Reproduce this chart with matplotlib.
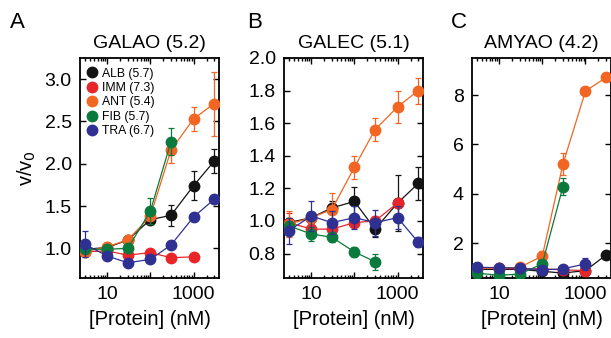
import numpy as np
import matplotlib
matplotlib.use('Agg')
import matplotlib.pyplot as plt
from matplotlib.lines import Line2D
from matplotlib.ticker import FixedLocator, FixedFormatter, LogLocator, NullFormatter

plt.rcParams['font.family'] = ['Liberation Sans', 'DejaVu Sans']

# protein concentrations (nM)
conc = [3, 10, 30, 100, 300, 1000, 3000]

series_names = ['ALB (5.7)', 'IMM (7.3)', 'ANT (5.4)', 'FIB (5.7)', 'TRA (6.7)']
series_colors = ['#141414', '#e8262a', '#f26522', '#0b7a3c', '#2e3192']

panel_titles = ['GALAO (5.2)', 'GALEC (5.1)', 'AMYAO (4.2)']
panel_letters = ['A', 'B', 'C']

nan = np.nan

# panel A: GALAO
galao_vals = [
    [0.99, 1.01, 1.10, 1.34, 1.39, 1.74, 2.03],
    [0.96, 0.97, 0.92, 0.95, 0.89, 0.90, nan],
    [0.96, 1.02, 1.10, 1.38, 2.16, 2.53, 2.71],
    [0.99, 0.99, 1.00, 1.44, 2.26, nan, nan],
    [1.05, 0.91, 0.83, 0.87, 1.04, 1.37, 1.58],
]
galao_err = [
    [0.02, 0.02, 0.03, 0.05, 0.12, 0.17, 0.14],
    [0.02, 0.02, 0.02, 0.03, 0.02, 0.02, nan],
    [0.03, 0.05, 0.06, 0.04, 0.15, 0.14, 0.38],
    [0.02, 0.03, 0.03, 0.15, 0.16, nan, nan],
    [0.15, 0.04, 0.02, 0.03, 0.02, 0.05, 0.03],
]

# panel B: GALEC
galec_vals = [
    [0.99, 1.02, 1.08, 1.12, 0.95, 1.11, 1.23],
    [0.99, 0.95, 0.95, 0.99, 1.00, 1.11, nan],
    [0.98, 1.02, 1.07, 1.33, 1.56, 1.70, 1.80],
    [0.97, 0.92, 0.90, 0.81, 0.75, nan, nan],
    [0.94, 1.03, 0.99, 1.02, 0.99, 1.02, 0.87],
]
galec_err = [
    [0.03, 0.03, 0.04, 0.09, 0.05, 0.17, 0.10],
    [0.06, 0.03, 0.03, 0.03, 0.03, 0.03, nan],
    [0.08, 0.03, 0.10, 0.07, 0.07, 0.10, 0.08],
    [0.03, 0.04, 0.03, 0.03, 0.05, nan, nan],
    [0.08, 0.09, 0.07, 0.07, 0.08, 0.07, 0.03],
]

# panel C: AMYAO
amyao_vals = [
    [0.95, 0.95, 0.95, 0.87, 0.80, 0.90, 1.53],
    [1.00, 1.00, 0.97, 0.97, 0.93, 0.90, nan],
    [1.00, 1.00, 1.03, 1.49, 5.20, 8.16, 8.71],
    [0.80, 0.71, 0.76, 1.17, 4.29, nan, nan],
    [1.03, 1.02, 1.00, 0.93, 0.97, 1.17, nan],
]
amyao_err = [
    [0.03, 0.03, 0.03, 0.05, 0.05, 0.05, 0.05],
    [0.03, 0.03, 0.03, 0.03, 0.03, 0.05, nan],
    [0.03, 0.03, 0.05, 0.20, 0.45, 0.10, 0.15],
    [0.03, 0.03, 0.03, 0.10, 0.35, nan, nan],
    [0.03, 0.03, 0.03, 0.05, 0.05, 0.25, nan],
]

panel_vals = [galao_vals, galec_vals, amyao_vals]
panel_errs = [galao_err, galec_err, amyao_err]
panel_ylims = [(0.65, 3.25), (0.65, 2.0), (0.6, 9.5)]
panel_yticks = [[1.0, 1.5, 2.0, 2.5, 3.0],
                [0.8, 1.0, 1.2, 1.4, 1.6, 1.8, 2.0],
                [2, 4, 6, 8]]
panel_yfmt = ['%.1f', '%.1f', '%d']

fig = plt.figure(figsize=(6.11, 3.38), dpi=100)

lefts = [0.131, 0.465, 0.7725]
letter_x = [0.016, 0.405, 0.738]
width = 0.2275
bottom = 0.1775
height = 0.651

for p in range(3):
    ax = fig.add_axes([lefts[p], bottom, width, height])
    for s in range(5):
        ax.errorbar(conc, panel_vals[p][s], yerr=panel_errs[p][s],
                    color=series_colors[s], marker='o', markersize=7.5,
                    linewidth=0.9, elinewidth=0.9, capsize=2, capthick=0.9,
                    zorder=3 + s)
    ax.set_xscale('log')
    ax.set_xlim(2.35, 3900)
    ax.set_ylim(*panel_ylims[p])
    ax.xaxis.set_major_locator(FixedLocator([10, 100, 1000]))
    ax.xaxis.set_major_formatter(FixedFormatter(['10', '', '1000']))
    ax.xaxis.set_minor_locator(LogLocator(base=10, subs=np.arange(2, 10)))
    ax.xaxis.set_minor_formatter(NullFormatter())
    ax.set_yticks(panel_yticks[p])
    ax.set_yticklabels([panel_yfmt[p] % v for v in panel_yticks[p]])
    ax.tick_params(which='both', direction='in', top=True, right=True,
                   labelsize=14, width=1.0, pad=6)
    ax.tick_params(which='major', length=4.5)
    ax.tick_params(which='minor', length=2.5)
    for sp in ax.spines.values():
        sp.set_linewidth(1.3)
    ax.set_title(panel_titles[p], fontsize=14, pad=7)
    ax.set_xlabel('[Protein] (nM)', fontsize=14.5, labelpad=5)
    fig.text(letter_x[p], 0.965, panel_letters[p], fontsize=16,
             ha='left', va='top')
    if p == 0:
        ax.set_ylabel('v/v$_0$', fontsize=14.5, labelpad=5)
        handles = [Line2D([], [], color=c, marker='o', markersize=7.5,
                          linestyle='none') for c in series_colors]
        ax.legend(handles, series_names, loc='upper left', frameon=False,
                  fontsize=8.8, handlelength=0.8, handletextpad=0.4,
                  labelspacing=0.2, borderaxespad=0.2,
                  bbox_to_anchor=(0.0, 0.99))

fig.savefig('out.png', dpi=100)
